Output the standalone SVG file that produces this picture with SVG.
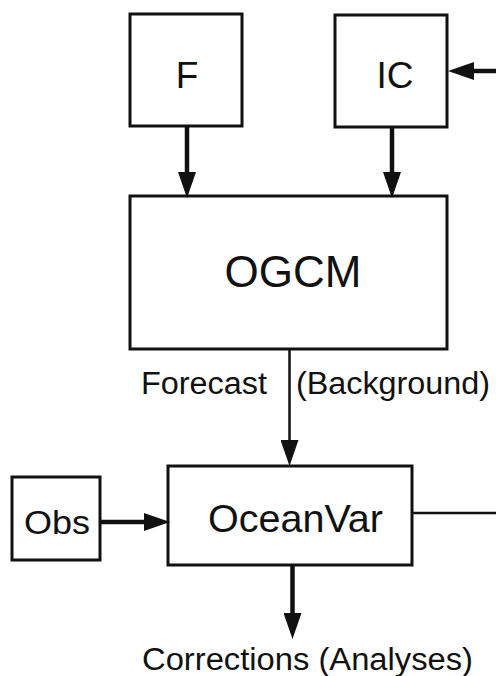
<svg xmlns="http://www.w3.org/2000/svg" width="496" height="676" viewBox="0 0 496 676">
  <style>
    .box { fill: #ffffff; stroke: #111111; stroke-width: 3; }
    .lbl { font-family: "Liberation Sans", Arial, sans-serif; fill: #111111; }
    .thick { fill: none; stroke: #111111; stroke-width: 4.5; }
    .thin { fill: none; stroke: #111111; stroke-width: 2.5; }
  </style>
  <defs>
    <marker id="ah" markerUnits="userSpaceOnUse" markerWidth="26" markerHeight="18" viewBox="0 0 26 18" refX="16" refY="9" orient="auto">
      <path d="M0,0 L26,9 L0,18 Z" fill="#111111"/>
    </marker>
  </defs>
  <rect width="496" height="676" fill="#ffffff"/>

  <g id="F">
    <rect class="box" x="130" y="14" width="112" height="112"/>
    <text class="lbl" x="187" y="88" font-size="37" text-anchor="middle">F</text>
  </g>
  <g id="IC">
    <rect class="box" x="335" y="15" width="112" height="112"/>
    <text class="lbl" x="395" y="88" font-size="37" text-anchor="middle">IC</text>
  </g>
  <g id="OGCM">
    <rect class="box" x="130" y="196" width="317" height="153"/>
    <text class="lbl" x="293" y="287" font-size="44" text-anchor="middle">OGCM</text>
  </g>
  <g id="OceanVar">
    <rect class="box" x="168" y="466" width="244" height="99"/>
    <text class="lbl" x="208" y="532" font-size="39" textLength="175" lengthAdjust="spacingAndGlyphs">OceanVar</text>
  </g>
  <g id="Obs">
    <rect class="box" x="12" y="477" width="88" height="83"/>
    <text class="lbl" x="24" y="534" font-size="33" textLength="66" lengthAdjust="spacingAndGlyphs">Obs</text>
  </g>

  <g id="connectors">
    <line class="thick" x1="187" y1="126" x2="187" y2="188" marker-end="url(#ah)"/>
    <line class="thick" x1="392" y1="127" x2="392" y2="188" marker-end="url(#ah)"/>
    <line class="thick" x1="496" y1="71" x2="458" y2="71" marker-end="url(#ah)"/>
    <line class="thin" x1="289.5" y1="349" x2="289.5" y2="456" marker-end="url(#ah)"/>
    <line class="thick" x1="100" y1="522" x2="160" y2="522" marker-end="url(#ah)"/>
    <line class="thick" x1="292.5" y1="565" x2="292.5" y2="629" marker-end="url(#ah)"/>
    <line class="thin" x1="412" y1="513" x2="496" y2="513"/>
  </g>

  <g id="labels">
    <text class="lbl" x="141" y="394" font-size="31" textLength="126" lengthAdjust="spacingAndGlyphs">Forecast</text>
    <text class="lbl" x="296" y="394" font-size="31" textLength="194" lengthAdjust="spacingAndGlyphs">(Background)</text>
    <text class="lbl" x="142" y="670" font-size="31" textLength="331" lengthAdjust="spacingAndGlyphs">Corrections (Analyses)</text>
  </g>
</svg>
